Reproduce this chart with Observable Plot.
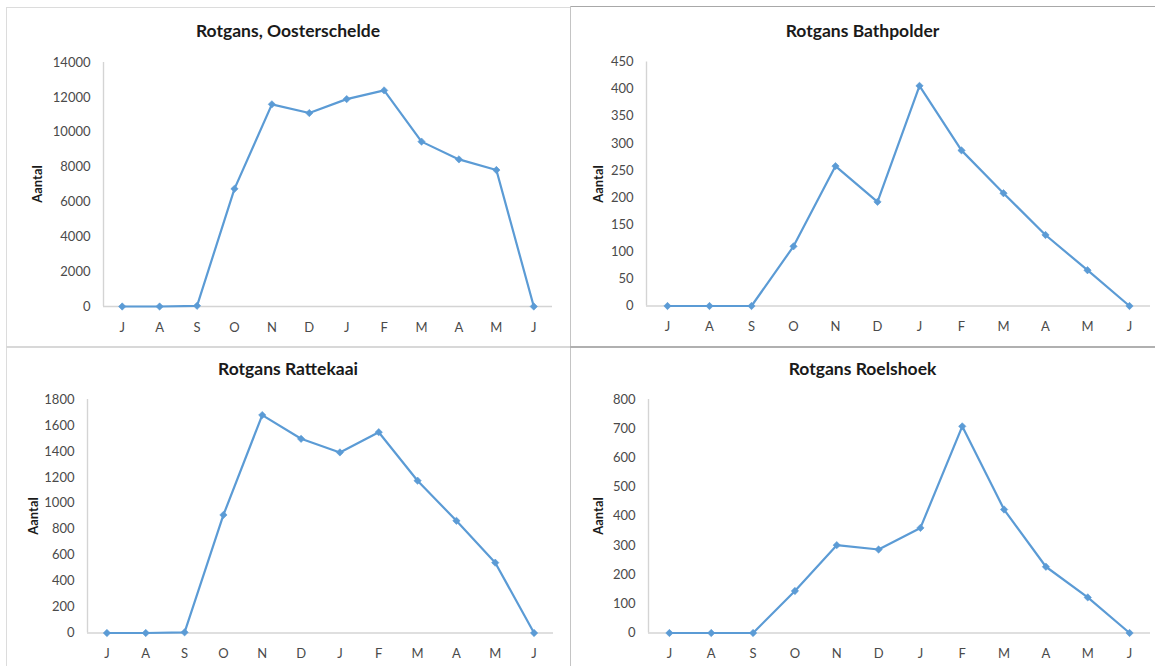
<!DOCTYPE html>
<html>
<head>
<meta charset="utf-8">
<script src="https://cdn.jsdelivr.net/npm/d3@7"></script>
<script src="https://cdn.jsdelivr.net/npm/@observablehq/plot@0.6"></script>
<style>
  html, body { margin: 0; padding: 0; background: #fff; }
  body { position: relative; width: 1155px; height: 666px; overflow: hidden; font-family: Lato, "Open Sans", sans-serif; }
  .chart { position: absolute; }
  .chart svg { position: absolute; left: 0; top: 0; overflow: visible; }
  .title { position: absolute; left: 0; right: 0; text-align: center; font-weight: 700; font-size: 17.5px; color: #1a1a1a; line-height: 1; }
  .ylabel { position: absolute; font-weight: 700; font-size: 13px; color: #1a1a1a; transform: translate(-50%, -50%) rotate(-90deg); white-space: nowrap; line-height: 1; }
  .line { position: absolute; }
</style>
</head>
<body>
<script>
// Monthly counts of brent geese (rotgans), July through June
const months = ["J", "A", "S", "O", "N", "D", "J", "F", "M", "A", "M", "J"];

const oosterschelde = [0, 0, 40, 6750, 11600, 11100, 11900, 12400, 9460, 8440, 7830, 0];
const bathpolder    = [0, 0, 0, 110, 258, 192, 406, 287, 208, 131, 66, 0];
const rattekaai     = [0, 0, 5, 910, 1680, 1497, 1392, 1548, 1174, 865, 542, 0];
const roelshoek     = [0, 0, 0, 144, 301, 286, 360, 708, 423, 227, 122, 0];

const ticksOosterschelde = [0, 2000, 4000, 6000, 8000, 10000, 12000, 14000];
const ticksBathpolder    = [0, 50, 100, 150, 200, 250, 300, 350, 400, 450];
const ticksRattekaai     = [0, 200, 400, 600, 800, 1000, 1200, 1400, 1600, 1800];
const ticksRoelshoek     = [0, 100, 200, 300, 400, 500, 600, 700, 800];

const titles = ["Rotgans, Oosterschelde", "Rotgans Bathpolder", "Rotgans Rattekaai", "Rotgans Roelshoek"];
const yLabel = "Aantal";

// Panel boxes and plot margins (page pixels)
const panels = [
  {title: titles[0], values: oosterschelde, ticks: ticksOosterschelde,
   left: 6, top: 7, width: 564, height: 340,
   margin: {left: 97, right: 18, top: 55, bottom: 41}, titleY: 24, labelX: 31},
  {title: titles[1], values: bathpolder, ticks: ticksBathpolder,
   left: 570, top: 6, width: 585, height: 341,
   margin: {left: 76, right: 5, top: 55.5, bottom: 41.5}, titleY: 25, labelX: 28},
  {title: titles[2], values: rattekaai, ticks: ticksRattekaai,
   left: 6, top: 347, width: 564, height: 319,
   margin: {left: 81, right: 17, top: 52, bottom: 33.5}, titleY: 22, labelX: 27},
  {title: titles[3], values: roelshoek, ticks: ticksRoelshoek,
   left: 570, top: 347, width: 585, height: 319,
   margin: {left: 78, right: 5, top: 52, bottom: 33.5}, titleY: 22, labelX: 28}
];

const blue = "#5b9bd5";
const axisGray = "#d4d4d4";
const tickColor = "#4a4a4a";

for (const p of panels) {
  const data = p.values.map((v, i) => ({i, month: months[i], value: v}));
  const yMax = p.ticks[p.ticks.length - 1];

  const div = document.createElement("div");
  div.className = "chart";
  Object.assign(div.style, {left: p.left + "px", top: p.top + "px", width: p.width + "px", height: p.height + "px"});

  const svg = Plot.plot({
    width: p.width,
    height: p.height,
    marginLeft: p.margin.left,
    marginRight: p.margin.right,
    marginTop: p.margin.top,
    marginBottom: p.margin.bottom,
    style: {fontFamily: "Lato, 'Open Sans', sans-serif", fontSize: "13px", color: tickColor, background: "transparent"},
    x: {type: "linear", domain: [-0.5, months.length - 0.5]},
    y: {domain: [0, yMax]},
    marks: [
      Plot.ruleX([-0.5], {y1: 0, y2: yMax, stroke: axisGray, strokeWidth: 1.4}),
      Plot.ruleY([0], {stroke: axisGray, strokeWidth: 1.6}),
      Plot.axisY({ticks: p.ticks, tickFormat: (d) => String(d), tickSize: 0, tickPadding: 13, label: null, fill: tickColor}),
      Plot.axisX({ticks: d3.range(months.length), tickFormat: (i) => months[i], tickSize: 0, tickPadding: 16, label: null, fill: tickColor}),
      Plot.line(data, {x: "i", y: "value", stroke: blue, strokeWidth: 2.2}),
      Plot.dot(data, {x: "i", y: "value", symbol: "diamond2", r: 3.3, fill: blue, stroke: blue, strokeWidth: 0.6})
    ]
  });
  div.appendChild(svg);

  const t = document.createElement("div");
  t.className = "title";
  t.textContent = p.title;
  t.style.top = (p.titleY - 9) + "px";
  div.appendChild(t);

  const yl = document.createElement("div");
  yl.className = "ylabel";
  yl.textContent = yLabel;
  yl.style.left = p.labelX + "px";
  yl.style.top = (p.margin.top + (p.height - p.margin.top - p.margin.bottom) / 2) + "px";
  div.appendChild(yl);

  document.body.appendChild(div);
}

// Chart frame borders
const borders = [
  {left: 6, top: 7, width: 564, height: 1, color: "#dcdcdc"},
  {left: 6, top: 7, width: 1, height: 659, color: "#dcdcdc"},
  {left: 570, top: 6, width: 585, height: 1, color: "#a8a8a8"},
  {left: 570, top: 6, width: 1, height: 660, color: "#c4c4c4"},
  {left: 6, top: 346, width: 564, height: 1.5, color: "#d8d8d8"},
  {left: 570, top: 346, width: 585, height: 1.5, color: "#b0b0b0"}
];
for (const b of borders) {
  const d = document.createElement("div");
  d.className = "line";
  Object.assign(d.style, {left: b.left + "px", top: b.top + "px", width: b.width + "px", height: b.height + "px", background: b.color});
  document.body.appendChild(d);
}
</script>
</body>
</html>
